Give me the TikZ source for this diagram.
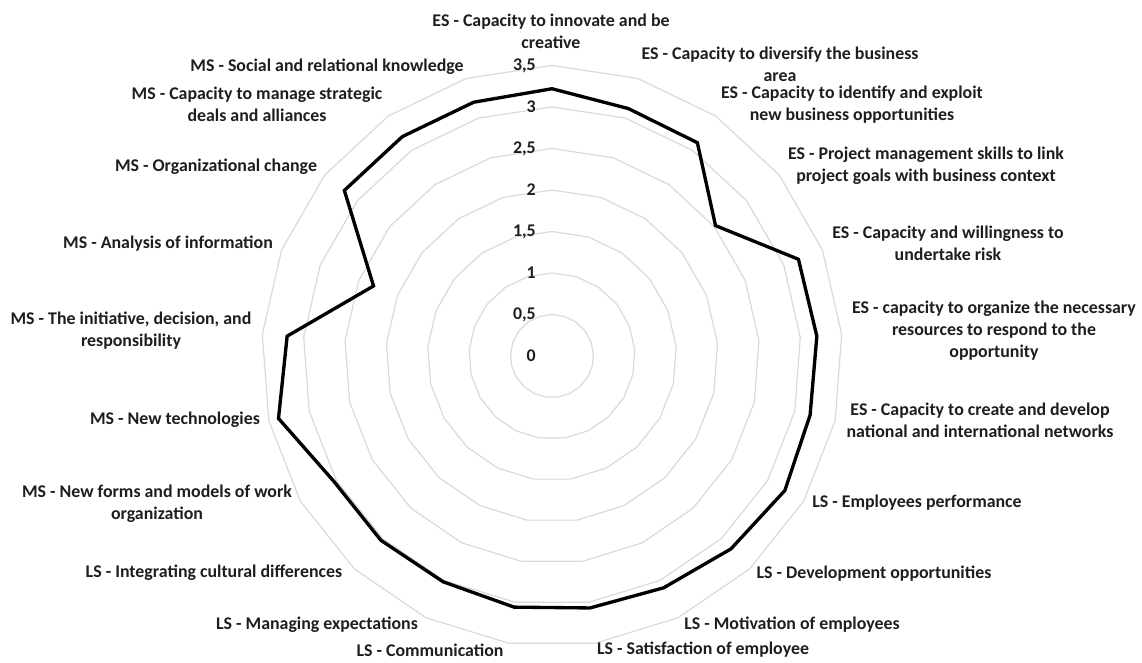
\documentclass[tikz,border=0pt]{standalone}
\usepackage{fontspec}
\setmainfont{Carlito}
\usepackage{xcolor}
\usepackage{tikz}
\definecolor{ringgray}{HTML}{D9D9D9}
\definecolor{labeltext}{HTML}{1E1E1E}
\tikzset{
    ringline/.style={draw=ringgray, line width=0.9pt},
    dataline/.style={draw=black, line width=2.5pt, line join=miter},
    catlabel/.style={align=center, text=labeltext, font=\bfseries\fontsize{13.4}{16.5}\selectfont, inner sep=0pt},
    vallabel/.style={anchor=east, text=labeltext, font=\bfseries\fontsize{13.4}{14}\selectfont, inner sep=0pt}
}

\begin{document}
\begin{tikzpicture}[x=0.75pt,y=0.75pt]
    \useasboundingbox (-552,-306) rectangle (590,356);
    % rings
    \foreach \r in {0.5,1,...,3.5} {
        \draw[ringline] (90:{\r*83}) \foreach \k in {1,...,20} { -- ({90-\k*360/21}:{\r*83}) } -- cycle;
    }
    % values
    \foreach \v/\t in {0/0, 0.5/{0,5}, 1/1, 1.5/{1,5}, 2/2, 2.5/{2,5}, 3/3, 3.5/{3,5}} {
        \node[vallabel] at (-16,{\v*83}) {\t};
    }
    % data
    \draw[dataline] (90:{3.22*83}) \foreach \v [count=\k] in {3.12,3.11,2.52,3.19,3.2,3.19,3.24,3.17,3.1,3.07,3.06,3.02,3.03,3.03,3.38,3.2,2.31,3.2,3.2,3.2} { -- ({90-\k*360/21}:{\v*83}) } -- cycle;
    % categories
    \node[catlabel] (es1) at (-1,325) {ES - Capacity to innovate and be\\creative};
    \node[catlabel] (es2) at (228,292) {ES - Capacity to diversify the business\\area};
    \node[catlabel] (es3) at (300,251) {ES - Capacity to identify and exploit\\new business opportunities};
    \node[catlabel] (es4) at (374,190) {ES - Project management skills to link\\project goals with business context};
    \node[catlabel] (es5) at (396,113) {ES - Capacity and willingness to\\undertake risk};
    \node[catlabel] (es6) at (442,25) {ES - capacity to organize the necessary\\resources to respond to the\\opportunity};
    \node[catlabel] (es7) at (428,-64) {ES - Capacity to create and develop\\national and international networks};
    \node[catlabel] (ls1) at (365,-147) {LS - Employees performance};
    \node[catlabel] (ls2) at (322,-218) {LS - Development opportunities};
    \node[catlabel] (ls3) at (240,-269) {LS - Motivation of employees};
    \node[catlabel] (ls4) at (151,-294) {LS - Satisfaction of employee};
    \node[catlabel] (ls5) at (-122,-294) {LS - Communication};
    \node[catlabel] (ls6) at (-235,-269) {LS - Managing expectations};
    \node[catlabel] (ls7) at (-338,-217) {LS - Integrating cultural differences};
    \node[catlabel] (ms1) at (-395,-148) {MS - New forms and models of work\\organization};
    \node[catlabel] (ms2) at (-377,-64) {MS - New technologies};
    \node[catlabel] (ms3) at (-421,25) {MS - The initiative, decision, and\\responsibility};
    \node[catlabel] (ms4) at (-384,112) {MS - Analysis of information};
    \node[catlabel] (ms5) at (-336,189) {MS - Organizational change};
    \node[catlabel] (ms6) at (-295,252) {MS - Capacity to manage strategic\\deals and alliances};
    \node[catlabel] (ms7) at (-225,289) {MS - Social and relational knowledge};
\end{tikzpicture}
\end{document}
